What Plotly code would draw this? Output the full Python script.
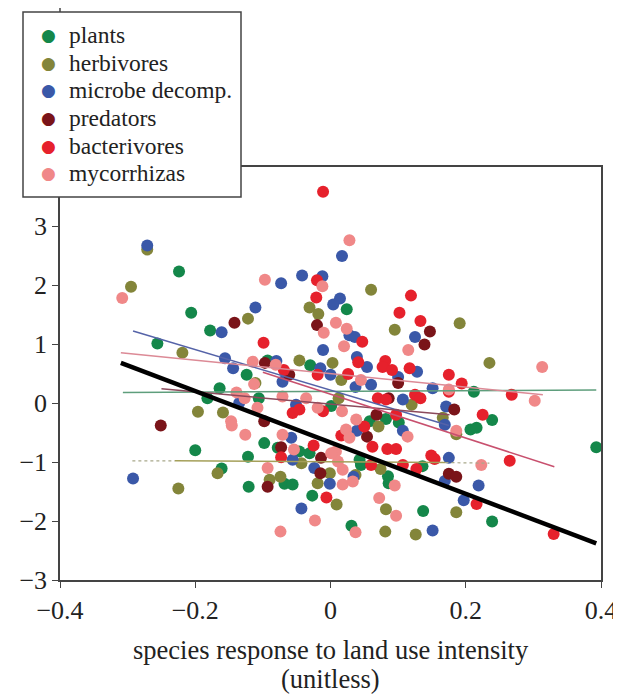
import plotly.graph_objects as go

# ---------------- data ----------------
groups = ["plants", "herbivores", "microbe decomp.", "predators", "bacterivores", "mycorrhizas"]
group_colors = ["#14874a", "#83853a", "#3a58a8", "#7a1419", "#e6212c", "#f08888"]

plants_x = [-0.224, -0.206, -0.178, -0.256, -0.124, -0.093, -0.030, 0.024, -0.164, -0.106, -0.182, 0.212,
            0.239, 0.207, 0.216, 0.393, 0.239, 0.001, -0.098, -0.078, -0.046, -0.031, 0.058, 0.082, 0.101,
            0.043, 0.045, 0.085, 0.086, 0.136, -0.068, -0.056, -0.027, 0.137, 0.031, -0.200, -0.122, -0.161, -0.121]
plants_y = [2.23, 1.53, 1.23, 1.01, 0.48, 0.72, 0.64, 1.59, 0.25, 0.08, 0.08, 0.19,
            -0.29, -0.45, -0.42, -0.75, -2.01, -0.05, -0.68, -0.76, -0.82, -0.85, -0.31, -0.27, -0.33,
            -0.96, -1.05, -1.24, -1.36, -1.07, -1.37, -1.38, -1.57, -1.83, -2.08, -0.80, -0.91, -1.11, -1.42]

herb_x = [-0.271, -0.295, -0.122, -0.219, 0.060, -0.031, -0.018, 0.191, 0.095, -0.046, 0.003, 0.235,
          -0.111, 0.016, 0.012, 0.120, 0.166, 0.186, -0.196, -0.159, -0.167, -0.225, 0.071, -0.043,
          -0.001, 0.074, -0.090, -0.074, -0.019, 0.037, 0.009, 0.082, 0.081, 0.126, 0.186]
herb_y = [2.60, 1.97, 1.43, 0.85, 1.92, 1.62, 1.51, 1.35, 1.24, 0.72, 0.68, 0.68,
          0.34, 0.39, 0.08, -0.03, -0.25, -0.53, -0.15, -0.16, -1.19, -1.45, -0.40, -1.02,
          -1.19, -1.12, -1.30, -1.25, -1.36, -1.22, -1.72, -1.80, -2.18, -2.23, -1.85]

microbe_x = [-0.271, -0.073, -0.042, 0.017, -0.012, -0.111, -0.161, 0.014, 0.004, 0.125, 0.028, 0.036,
             -0.156, -0.144, -0.080, -0.011, 0.039, 0.054, 0.128, -0.015, 0.000, -0.071, 0.037, 0.060,
             0.100, 0.151, 0.171, 0.169, 0.175, 0.169, 0.219, 0.197, -0.292, -0.135, -0.051, 0.107,
             0.039, 0.107, -0.058, -0.056, -0.024, -0.001, 0.034, -0.043, 0.151]
microbe_y = [2.67, 2.03, 2.16, 2.49, 2.15, 1.62, 1.20, 1.77, 1.67, 1.12, 1.15, 1.12,
             0.76, 0.59, 0.71, 0.90, 0.78, 0.61, 0.53, 0.59, 0.48, 0.36, 0.27, 0.31,
             0.44, 0.25, -0.06, -0.37, -0.93, -1.32, -1.40, -1.65, -1.28, 0.00, -0.03, 0.06,
             -0.47, -0.47, -0.59, -0.96, -1.10, -1.37, -1.25, -1.79, -2.16]

pred_x = [-0.142, -0.020, 0.147, 0.139, -0.097, -0.061, 0.100, 0.086, 0.068, 0.183, -0.251, -0.098,
          -0.073, 0.054, -0.014, -0.015, -0.093, 0.175, 0.186]
pred_y = [1.36, 1.32, 1.21, 0.99, 0.68, 0.48, 0.34, 0.08, -0.20, -0.11, -0.38, -0.31,
          -0.75, -0.57, -0.93, -1.19, -1.42, -1.20, -1.25]

bact_x = [-0.011, -0.020, -0.021, -0.099, 0.119, 0.102, 0.133, 0.047, -0.069, -0.019, 0.041, 0.081,
          0.077, 0.091, 0.117, 0.175, 0.194, 0.026, 0.268, 0.175, 0.225, 0.265, 0.216, 0.330,
          -0.056, -0.046, -0.011, 0.070, 0.082, 0.125, 0.133, 0.097, 0.016, 0.050, 0.084, 0.097,
          0.062, -0.025, -0.073, 0.060, 0.107, 0.127, 0.149, 0.154, -0.006]
bact_y = [3.58, 2.08, 1.79, 1.02, 1.82, 1.53, 1.39, 1.04, 0.56, 0.48, 0.69, 0.71,
          0.61, 0.56, 0.59, 0.48, 0.33, 0.49, 0.14, 0.19, -0.20, -0.98, -1.71, -2.22,
          -0.17, -0.11, -0.14, 0.08, 0.06, 0.14, 0.08, -0.20, -0.55, -0.40, -0.78, -0.78,
          -0.74, -0.72, -0.92, -1.05, -1.05, -1.12, -0.89, -0.95, -1.60]

myco_x = [-0.308, -0.097, 0.028, -0.012, 0.008, 0.024, -0.010, 0.020, 0.115, 0.313, -0.115, -0.081,
          -0.113, 0.045, -0.139, -0.127, -0.108, -0.071, -0.036, -0.019, 0.017, 0.175, 0.302, 0.186,
          0.223, -0.147, -0.146, -0.126, -0.071, -0.054, 0.038, 0.023, 0.028, 0.114, 0.008, 0.011,
          0.018, 0.001, -0.093, 0.018, 0.033, 0.095, 0.072, 0.097, -0.023, -0.074, 0.037]
myco_y = [1.78, 2.09, 2.76, 1.98, 1.36, 1.26, 1.19, 0.96, 0.90, 0.61, 0.70, 0.65,
          0.32, 0.39, 0.18, 0.08, -0.08, 0.11, 0.08, -0.08, -0.14, 0.23, 0.04, -0.47,
          -1.05, -0.31, -0.38, -0.54, -0.54, -0.79, -0.28, -0.45, -0.59, -0.57, -0.82, -0.99,
          -1.13, -0.85, -1.10, -1.38, -1.33, -1.40, -1.61, -1.91, -1.99, -2.18, -2.19]

xs = [plants_x, herb_x, microbe_x, pred_x, bact_x, myco_x]
ys = [plants_y, herb_y, microbe_y, pred_y, bact_y, myco_y]

# per-group regression lines (start/end)
fit_x0 = [-0.307, -0.23, -0.292, -0.25, -0.10, -0.31]
fit_y0 = [0.18, -0.98, 1.22, 0.24, 0.52, 0.85]
fit_x1 = [0.393, 0.17, 0.175, 0.176, 0.331, 0.314]
fit_y1 = [0.22, -1.01, -0.38, -0.20, -1.08, 0.14]
fit_colors = ["#5e9e7c", "#a5a05a", "#5563a8", "#8c4a5c", "#c8506e", "#dc8a96"]

# dotted extensions of the herbivore fit
herb_dot_x = [[-0.293, -0.23], [0.17, 0.235]]
herb_dot_y = [[-0.98, -0.98], [-1.01, -1.02]]

# overall fit
all_x = [-0.31, 0.393]
all_y = [0.68, -2.38]

x_ticks = [-0.4, -0.2, 0, 0.2, 0.4]
x_tick_text = ["\u22120.4", "\u22120.2", "0", "0.2", "0.4"]
y_ticks = [-3, -2, -1, 0, 1, 2, 3]
y_tick_text = ["\u22123", "\u22122", "\u22121", "0", "1", "2", "3"]

x_title_lines = ["species response to land use intensity", "(unitless)"]

# ---------------- layout geometry ----------------
FONT = "Liberation Serif, Times New Roman, serif"
TXT = "#222222"
AX = "#444444"

PAGE_OFF = 8                      # default page body margin
W, H = 621 - PAGE_OFF, 694 - PAGE_OFF
ML, MR, MT, MB = 60 - PAGE_OFF, 20, 167 - PAGE_OFF, 114
plot_w = W - ML - MR
plot_h = H - MT - MB


def px_x(px):   # page pixel -> paper x
    return (px - PAGE_OFF - ML) / plot_w


def px_y(py):   # page pixel -> paper y
    return (H - MB - (py - PAGE_OFF)) / plot_h


fig = go.Figure()

for name, col, gx, gy in zip(groups, group_colors, xs, ys):
    fig.add_trace(go.Scatter(x=gx, y=gy, mode="markers", name=name, showlegend=False,
                             marker=dict(color=col, size=12, line=dict(width=0))))

for i in range(len(groups)):
    fig.add_trace(go.Scatter(x=[fit_x0[i], fit_x1[i]], y=[fit_y0[i], fit_y1[i]], mode="lines",
                             line=dict(color=fit_colors[i], width=1.5), showlegend=False,
                             hoverinfo="skip"))

for dx, dy in zip(herb_dot_x, herb_dot_y):
    fig.add_trace(go.Scatter(x=dx, y=dy, mode="lines", line=dict(color="#a8a88a", width=1.2, dash="dot"),
                             showlegend=False, hoverinfo="skip"))

fig.add_trace(go.Scatter(x=all_x, y=all_y, mode="lines", line=dict(color="black", width=4.5),
                         showlegend=False, hoverinfo="skip"))

shapes = [
    # left axis line continuing above the frame (behind the legend box)
    dict(type="line", xref="paper", yref="paper", x0=0, x1=0, y0=1, y1=px_y(0),
         line=dict(color=AX, width=1.5), layer="above"),
    # legend box
    dict(type="rect", xref="paper", yref="paper", x0=px_x(23), x1=px_x(241),
         y0=px_y(197), y1=px_y(12), fillcolor="white", line=dict(color=AX, width=1.5),
         layer="above"),
]

annotations = []
row_y = [35, 63, 90, 118, 146, 173]
for name, col, ry in zip(groups, group_colors, row_y):
    annotations.append(dict(xref="paper", yref="paper", x=px_x(48), y=px_y(ry),
                            text="\u25cf", showarrow=False, xanchor="center", yanchor="middle",
                            font=dict(family="DejaVu Sans", size=17, color=col)))
    annotations.append(dict(xref="paper", yref="paper", x=px_x(67), y=px_y(ry),
                            text=name, showarrow=False, xanchor="left", yanchor="middle",
                            font=dict(family=FONT, size=23.5, color=TXT)))

for line_text, ly in zip(x_title_lines, [650, 679]):
    annotations.append(dict(xref="paper", yref="paper", x=0.5, y=px_y(ly), text=line_text,
                            showarrow=False, xanchor="center", yanchor="middle",
                            font=dict(family=FONT, size=26.5, color=TXT)))

fig.update_layout(
    width=W, height=H,
    margin=dict(l=ML, r=MR, t=MT, b=MB, autoexpand=False),
    paper_bgcolor="white", plot_bgcolor="white",
    font=dict(family=FONT, size=26, color=TXT),
    showlegend=False,
    shapes=shapes,
    annotations=annotations,
    xaxis=dict(range=[-0.4, 0.4], tickvals=x_ticks, ticktext=x_tick_text,
               showgrid=False, zeroline=False, showline=True, linecolor=AX, linewidth=1.5,
               mirror=True, ticks="outside", ticklen=6, tickcolor=AX,
               tickfont=dict(family=FONT, size=26, color=TXT)),
    yaxis=dict(range=[-3, 4], tickvals=y_ticks, ticktext=y_tick_text,
               showgrid=False, zeroline=False, showline=True, linecolor=AX, linewidth=1.5,
               mirror=True, ticks="outside", ticklen=6, tickcolor=AX,
               tickfont=dict(family=FONT, size=26, color=TXT)),
)

fig.write_html("out.html")
